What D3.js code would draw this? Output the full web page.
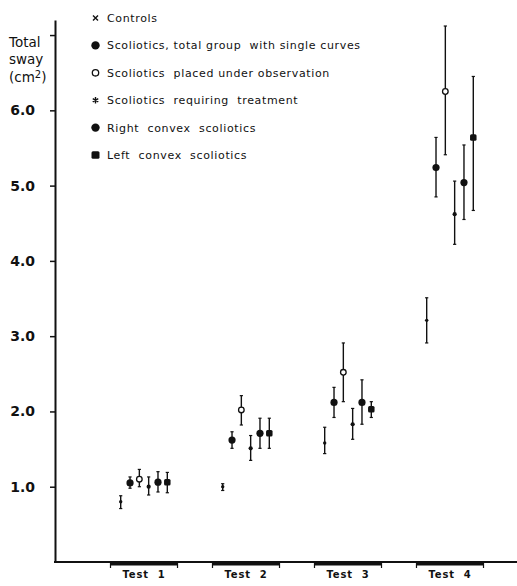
<!DOCTYPE html>
<html><head><meta charset="utf-8">
<script src="https://cdn.jsdelivr.net/npm/d3@7/dist/d3.min.js"></script>
<style>
html,body{margin:0;padding:0;background:#fff;}
svg{display:block;font-family:"DejaVu Sans",sans-serif;}
</style></head>
<body><svg id="c" width="517" height="586"></svg>
<script>
const tests = ["Test 1","Test 2","Test 3","Test 4"];
const seriesNames = ["Controls","Scoliotics, total group  with single curves","Scoliotics  placed under observation","Scoliotics  requiring  treatment","Right  convex  scoliotics","Left  convex  scoliotics"];
const seriesKeys = ["controls","total","observation","treatment","right","left"];
const controlsMean = [0.80,1.00,1.58,3.21], controlsLow = [0.71,0.95,1.44,2.91], controlsHigh = [0.88,1.04,1.79,3.51];
const totalMean = [1.05,1.62,2.12,5.24], totalLow = [0.98,1.51,1.92,4.85], totalHigh = [1.13,1.73,2.32,5.64];
const obsMean = [1.10,2.02,2.52,6.25], obsLow = [1.00,1.82,2.13,5.41], obsHigh = [1.23,2.21,2.91,7.12];
const treatMean = [1.00,1.51,1.83,4.62], treatLow = [0.89,1.35,1.63,4.22], treatHigh = [1.13,1.68,2.04,5.06];
const rightMean = [1.06,1.71,2.12,5.04], rightLow = [0.93,1.51,1.83,4.55], rightHigh = [1.20,1.91,2.42,5.54];
const leftMean = [1.06,1.71,2.03,5.64], leftLow = [0.92,1.51,1.92,4.67], leftHigh = [1.19,1.91,2.13,6.45];
const yTicks = [1,2,3,4,5,6,7];
const yTickLabels = ["1.0","2.0","3.0","4.0","5.0","6.0",""];

const means = [controlsMean,totalMean,obsMean,treatMean,rightMean,leftMean];
const lows = [controlsLow,totalLow,obsLow,treatLow,rightLow,leftLow];
const highs = [controlsHigh,totalHigh,obsHigh,treatHigh,rightHigh,leftHigh];

const ink = "#111";
const svg = d3.select("#c");
const y = d3.scaleLinear().domain([0,7.2]).range([562,20]);
const x = d3.scaleBand().domain(tests).range([110.5,483.5]).paddingInner(0.343).paddingOuter(0);
const xi = d3.scalePoint().domain(seriesKeys).range([-23.3,23.3]);

// y axis
const ya = svg.append("g").attr("transform","translate(55,0)")
  .call(d3.axisLeft(y).tickValues(yTicks).tickFormat((d,i)=>yTickLabels[i]).tickSize(5).tickSizeOuter(0).tickPadding(15));
ya.select(".domain").attr("stroke",ink).attr("stroke-width",2);
ya.selectAll(".tick line").attr("stroke",ink).attr("stroke-width",1.5);
ya.selectAll(".tick text").attr("fill",ink).style("font-size","14px").style("font-weight","bold").style("font-family","'DejaVu Sans',sans-serif");

// x axis baseline
svg.append("line").attr("x1",54).attr("x2",517).attr("y1",y(0)).attr("y2",y(0)).attr("stroke",ink).attr("stroke-width",2);
// group brackets
const br = svg.append("g");
tests.forEach(t=>{
  const x0 = x(t), x1 = x(t)+x.bandwidth();
  br.append("line").attr("x1",x0).attr("x2",x1).attr("y1",564).attr("y2",564).attr("stroke",ink).attr("stroke-width",3);
  br.append("line").attr("x1",x0).attr("x2",x0).attr("y1",563).attr("y2",568).attr("stroke",ink).attr("stroke-width",1.2);
  br.append("line").attr("x1",x1).attr("x2",x1).attr("y1",563).attr("y2",568).attr("stroke",ink).attr("stroke-width",1.2);
  br.append("text").attr("x",x(t)+x.bandwidth()/2).attr("y",578).attr("text-anchor","middle")
    .attr("fill",ink).style("font-size","10px").style("font-weight","bold").style("letter-spacing","0.9px").attr("xml:space","preserve").text(t.replace(" ","  "));
});

// y title
const yt = svg.append("g").attr("fill",ink).style("font-size","13.5px");
yt.append("text").attr("x",9).attr("y",47).text("Total");
yt.append("text").attr("x",9).attr("y",64).text("sway");
const t3 = yt.append("text").attr("x",9).attr("y",82).text("(cm");
t3.append("tspan").attr("dy",-4).style("font-size","10px").text("2");
t3.append("tspan").attr("dy",4).text(")");

function marker(g, key, cx, cy, legend){
  if(key==="controls"){
    if(legend){
      g.append("path").attr("d",`M${cx-2.5},${cy-2.5}L${cx+2.5},${cy+2.5}M${cx+2.5},${cy-2.5}L${cx-2.5},${cy+2.5}`).attr("stroke",ink).attr("stroke-width",1.4);
    } else g.append("circle").attr("cx",cx).attr("cy",cy).attr("r",1.7).attr("fill",ink);
  } else if(key==="total"||key==="right"){
    g.append("circle").attr("cx",cx).attr("cy",cy).attr("r",legend?4.2:3.6).attr("fill",ink);
  } else if(key==="observation"){
    g.append("circle").attr("cx",cx).attr("cy",cy).attr("r",legend?3.2:2.8).attr("fill","#fff").attr("stroke",ink).attr("stroke-width",1.3);
  } else if(key==="treatment"){
    if(legend){
      g.append("path").attr("d",d3.symbol(d3.symbolAsterisk,28)()).attr("transform",`translate(${cx},${cy})`).attr("stroke",ink).attr("stroke-width",1.4);
    } else g.append("circle").attr("cx",cx).attr("cy",cy).attr("r",2.1).attr("fill",ink);
  } else if(key==="left"){
    const w = legend?8:6.5, h = legend?7.5:6.5;
    g.append("rect").attr("x",cx-w/2).attr("y",cy-h/2).attr("width",w).attr("height",h).attr("rx",1.5).attr("fill",ink);
  }
}

// data
const pts = svg.append("g");
seriesKeys.forEach((k,si)=>{
  tests.forEach((t,ti)=>{
    const cx = x(t)+x.bandwidth()/2 + xi(k);
    const g = pts.append("g");
    g.append("line").attr("x1",cx).attr("x2",cx).attr("y1",y(highs[si][ti])).attr("y2",y(lows[si][ti])).attr("stroke",ink).attr("stroke-width",1.4);
    [highs[si][ti],lows[si][ti]].forEach(v=>{
      g.append("line").attr("x1",cx-1.6).attr("x2",cx+1.6).attr("y1",y(v)).attr("y2",y(v)).attr("stroke",ink).attr("stroke-width",1.2);
    });
    marker(g,k,cx,y(means[si][ti]),false);
  });
});

// legend
const lg = svg.append("g");
const legendY = d3.scaleLinear().domain([0,5]).range([18,155]);
seriesKeys.forEach((k,i)=>{
  const ly = legendY(i);
  marker(lg,k,95.5,ly,true);
  lg.append("text").attr("x",107).attr("y",ly+4).attr("fill",ink).style("font-size","11px").style("letter-spacing","0.65px").attr("xml:space","preserve").text(seriesNames[i]);
});
</script></body></html>
